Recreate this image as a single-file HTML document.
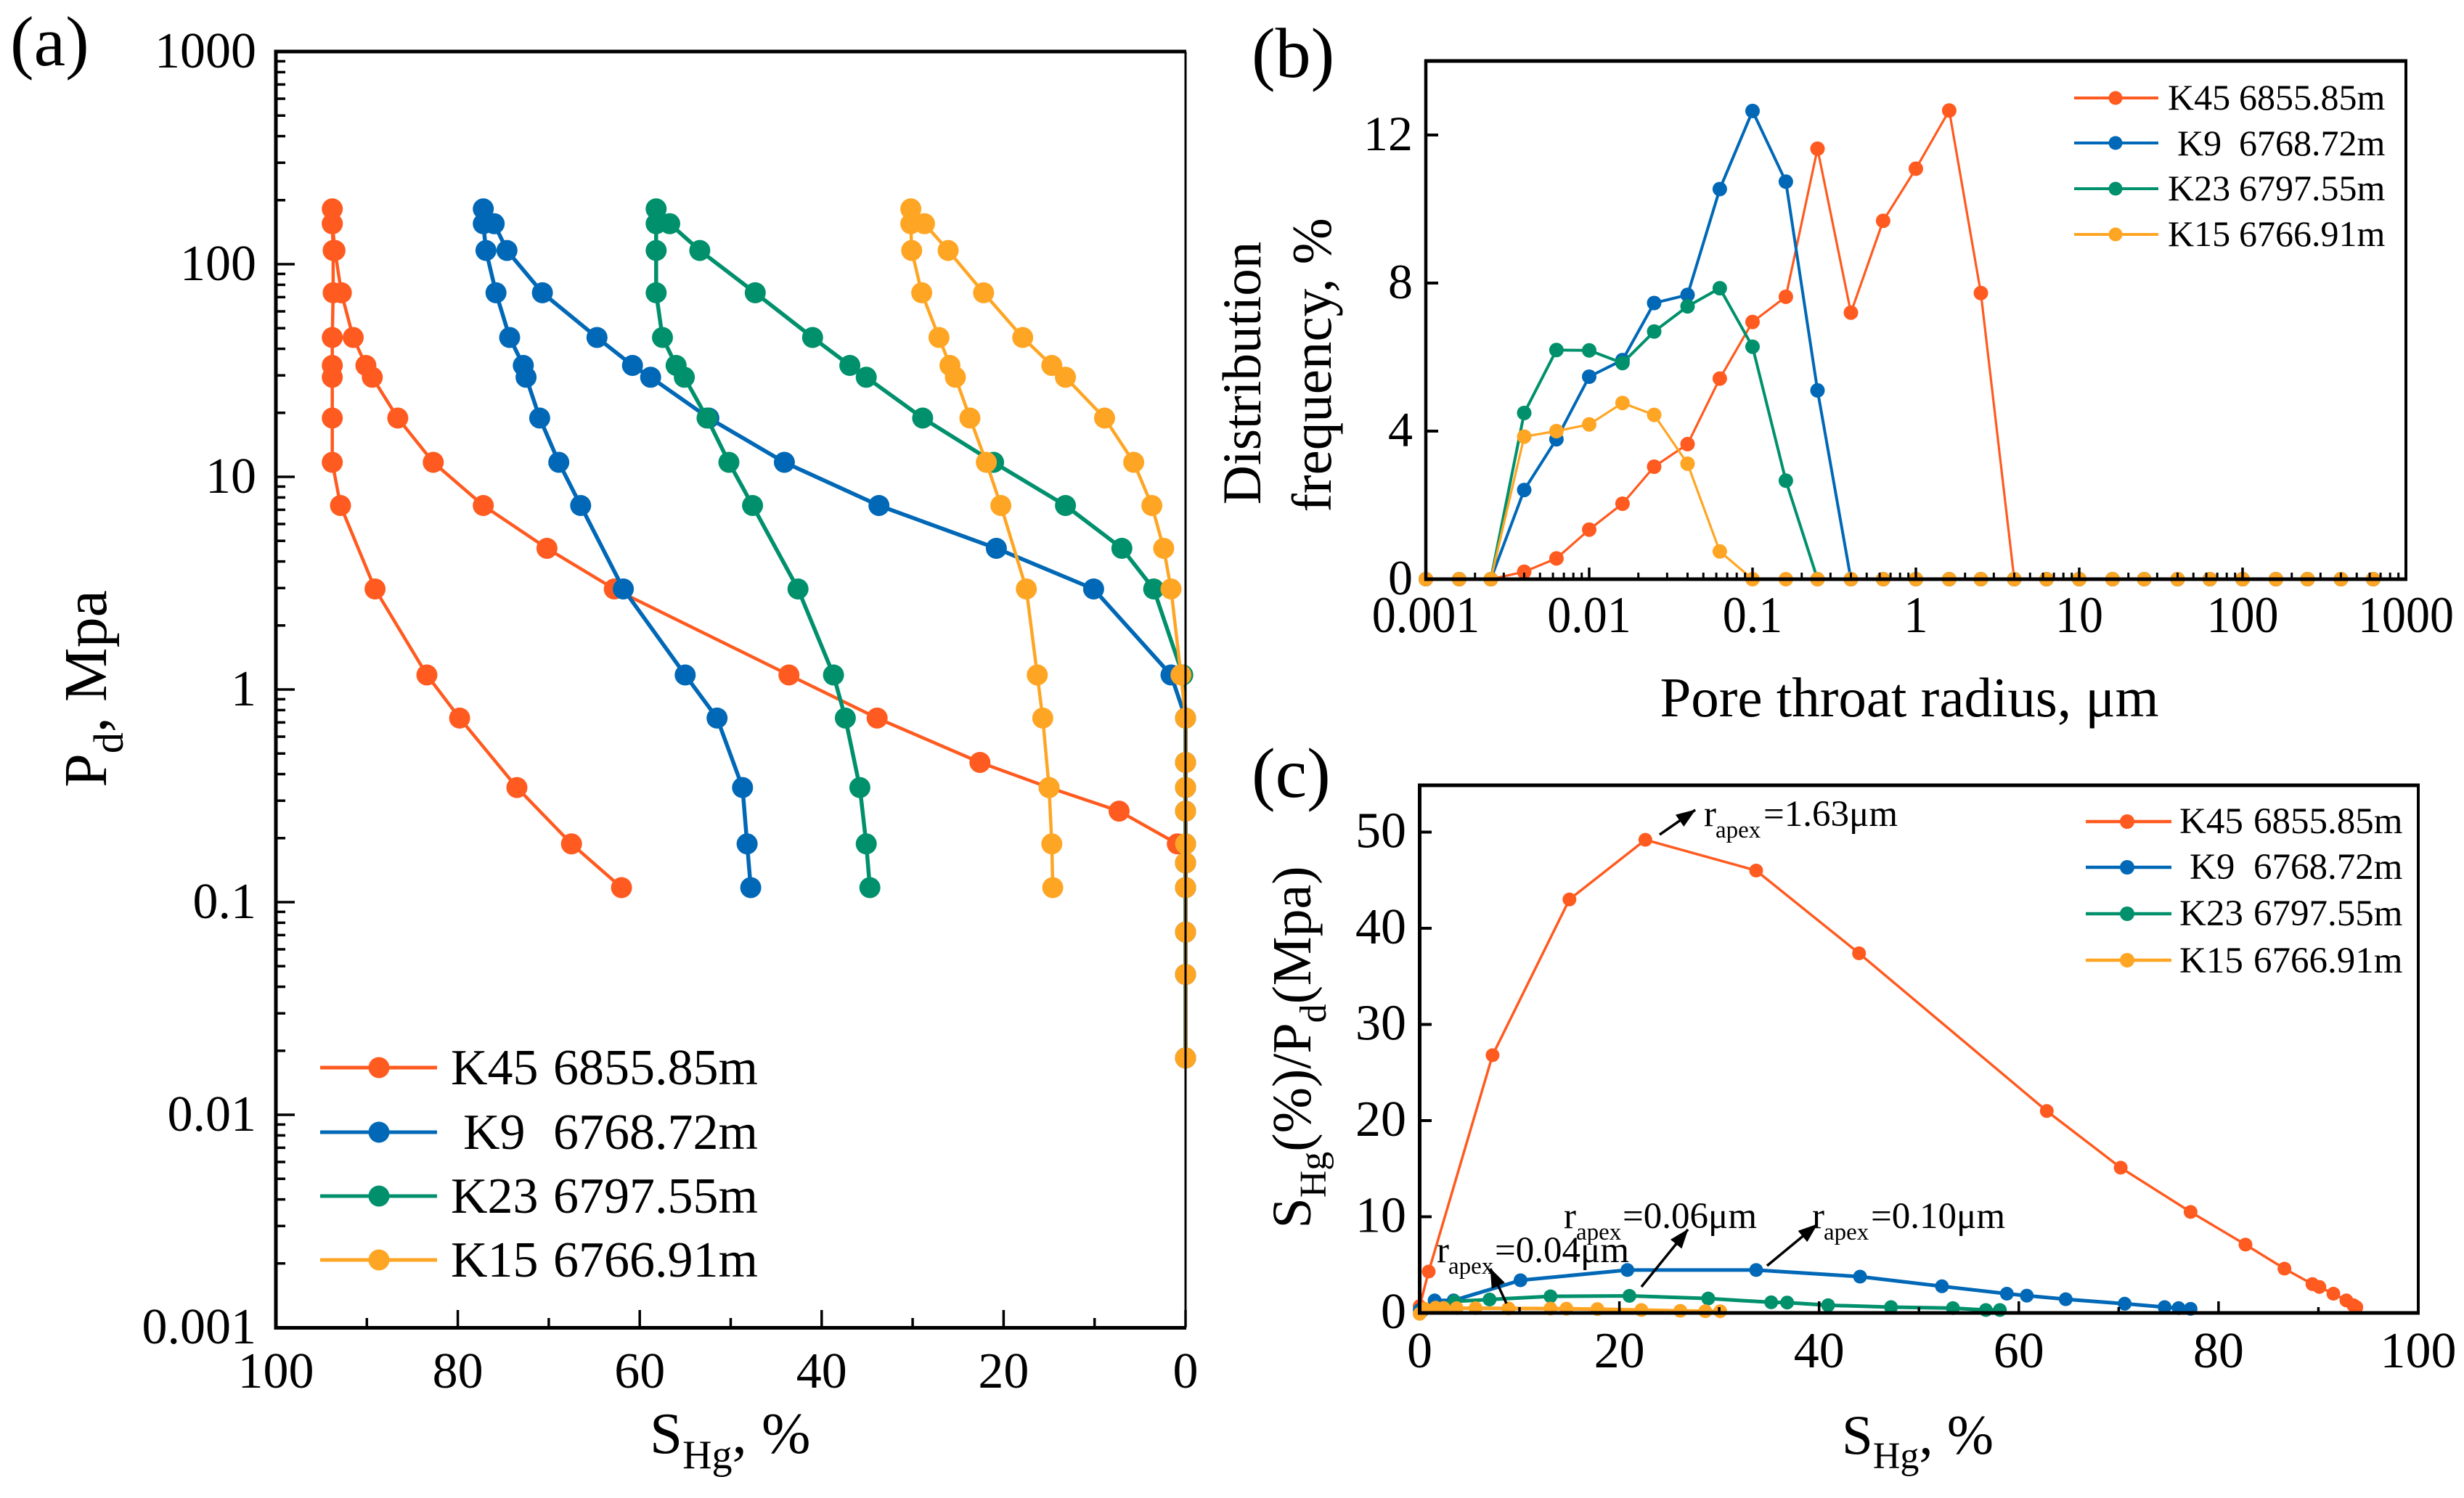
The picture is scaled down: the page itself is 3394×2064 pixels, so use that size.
<!DOCTYPE html>
<html lang="en">
<head>
<meta charset="utf-8">
<title>Mercury injection curves</title>
<style>
html,body{margin:0;padding:0;background:#fff}
svg{display:block}
text{font-family:"Liberation Serif",serif;fill:#000}
</style>
</head>
<body>
<svg id="fig" xmlns="http://www.w3.org/2000/svg" width="3394" height="2064" viewBox="0 0 3394 2064">
<rect width="3394" height="2064" fill="#fff"/>
<g id="marks"></g>
<g id="axes"></g>

<text x="14" y="90" font-size="98">(a)</text>
<text x="1724" y="106" font-size="98">(b)</text>
<text x="1724" y="1098" font-size="98">(c)</text>

<text x="895" y="2002" font-size="81">S<tspan font-size="56" dy="21">Hg</tspan><tspan dy="-21">, %</tspan></text>
<text transform="translate(146,949) rotate(-90)" text-anchor="middle" font-size="84">P<tspan font-size="58" dy="23">d</tspan><tspan dy="-23">, Mpa</tspan></text>

<text x="2630" y="987" text-anchor="middle" font-size="77">Pore throat radius, μm</text>
<text transform="translate(1736,514) rotate(-90)" text-anchor="middle" font-size="75">Distribution</text>
<text transform="translate(1833,503) rotate(-90)" text-anchor="middle" font-size="77">frequency, %</text>

<text x="2537" y="2003" font-size="77">S<tspan font-size="52" dy="20">Hg</tspan><tspan dy="-20">, %</tspan></text>
<text transform="translate(1805,1443) rotate(-90)" text-anchor="middle" font-size="76">S<tspan font-size="52" dy="21">Hg</tspan><tspan dy="-21">(%)/P</tspan><tspan font-size="52" dy="21">d</tspan><tspan dy="-21">(Mpa)</tspan></text>

<g>
<text y="1494" font-size="70"><tspan x="621">K45</tspan><tspan x="762">6855.85m</tspan></text>
<text y="1583" font-size="70"><tspan x="638">K9</tspan><tspan x="762">6768.72m</tspan></text>
<text y="1671" font-size="70"><tspan x="621">K23</tspan><tspan x="762">6797.55m</tspan></text>
<text y="1759" font-size="70"><tspan x="621">K15</tspan><tspan x="762">6766.91m</tspan></text>
</g>
<g>
<text y="151" font-size="50"><tspan x="2986">K45</tspan><tspan x="3084">6855.85m</tspan></text>
<text y="214" font-size="50"><tspan x="2999">K9</tspan><tspan x="3084">6768.72m</tspan></text>
<text y="276" font-size="50"><tspan x="2986">K23</tspan><tspan x="3084">6797.55m</tspan></text>
<text y="339" font-size="50"><tspan x="2986">K15</tspan><tspan x="3084">6766.91m</tspan></text>
</g>
<g>
<text y="1148" font-size="51"><tspan x="3002">K45</tspan><tspan x="3104">6855.85m</tspan></text>
<text y="1211" font-size="51"><tspan x="3016">K9</tspan><tspan x="3104">6768.72m</tspan></text>
<text y="1275" font-size="51"><tspan x="3002">K23</tspan><tspan x="3104">6797.55m</tspan></text>
<text y="1340" font-size="51"><tspan x="3002">K15</tspan><tspan x="3104">6766.91m</tspan></text>
</g>

<g>
<text y="1138" font-size="51"><tspan x="2347">r</tspan><tspan x="2363" font-size="33" dy="16">apex</tspan><tspan x="2429" dy="-16">=1.63μm</tspan></text>
<text y="1692" font-size="51"><tspan x="2154">r</tspan><tspan x="2171" font-size="33" dy="16">apex</tspan><tspan x="2235" dy="-16">=0.06μm</tspan></text>
<text y="1692" font-size="51"><tspan x="2496">r</tspan><tspan x="2512" font-size="33" dy="16">apex</tspan><tspan x="2577" dy="-16">=0.10μm</tspan></text>
<text y="1739" font-size="51"><tspan x="1979">r</tspan><tspan x="1995" font-size="33" dy="16">apex</tspan><tspan x="2059" dy="-16">=0.04μm</tspan></text>
<defs><marker id="ah" markerUnits="userSpaceOnUse" markerWidth="28" markerHeight="22" refX="26" refY="10" orient="auto"><path d="M0 0L27 10L0 20Z" fill="#000"/></marker></defs>
<line x1="2286" y1="1150" x2="2335" y2="1116" stroke="#000" stroke-width="3.5" marker-end="url(#ah)"/>
<line x1="2261" y1="1773" x2="2325" y2="1694" stroke="#000" stroke-width="3.5" marker-end="url(#ah)"/>
<line x1="2434" y1="1744" x2="2503" y2="1687" stroke="#000" stroke-width="3.5" marker-end="url(#ah)"/>
<line x1="2075" y1="1796" x2="2053" y2="1748" stroke="#000" stroke-width="3.5" marker-end="url(#ah)"/>
</g>
</svg>

<script>
// Series presentation
const seriesNames = ['K45', 'K9', 'K23', 'K15'];
const seriesColors = ['#ff5a1f', '#0068b6', '#00906c', '#ffa524'];

// Panel (a) capillary pressure, Mpa
const intrusionPressure = [0.0185,0.0457,0.0723,0.117,0.153,0.188,0.268,0.346,0.454,0.734,1.17,2.97,4.61,7.33,11.7,18.9,29.4,33.4,45.2,73.4,116,155,182];
const withdrawalPressure = [155,116,73.4,45.2,33.4,29.4,18.9,11.7,7.33,2.97,1.17,0.734,0.346,0.188,0.117];

// Panel (a) mercury saturation, %
const k45Intrusion = [0,0,0,0,0,0.9,7.3,15,22.6,33.9,43.6,62.8,70.2,77.2,82.7,86.6,89.4,90.1,91.5,92.8,93.5,93.8,93.8];
const k9Intrusion = [0,0,0,0,0,0,0,0,0,0,1.6,10.1,20.8,33.7,44.1,52.4,58.8,60.8,64.7,70.7,74.6,76,77.2];
const k23Intrusion = [0,0,0,0,0,0,0,0,0,0,0.3,3.5,7,13.2,21.1,28.9,35.1,36.9,41,47.3,53.4,56.7,58.2];
const k15Intrusion = [0,0,0,0,0,0,0,0,0,0,0.5,1.6,2.4,3.7,5.7,8.9,13.2,14.7,17.9,22.2,26.1,28.7,30.2];
const k45Withdrawal = [93.8,93.7,93.7,93.8,93.8,93.8,93.8,93.8,92.9,89.1,83.4,79.8,73.5,67.5,62];
const k9Withdrawal = [77.2,76.9,75.8,74.3,72.8,72.5,71,68.9,66.5,61.8,55,51.5,48.7,48.2,47.8];
const k23Withdrawal = [58.2,58.2,58.2,57.5,56,55.1,52.6,50.2,47.6,42.6,38.7,37.4,35.8,35.1,34.7];
const k15Withdrawal = [30.2,30.1,29,27.1,25.9,25.3,23.7,21.9,20.3,17.5,16.3,15.7,15,14.7,14.6];

// Panel (b) pore throat radius, um and distribution frequency, %
const throatRadius = [0.001,0.0016,0.0025,0.004,0.0063,0.01,0.016,0.025,0.04,0.063,0.1,0.16,0.25,0.4,0.63,1,1.6,2.5,4,6.3,10,16,25,40,63,100,160,250,400,630];
const k45Frequency = [0,0,0,0.2,0.56,1.34,2.04,3.04,3.65,5.42,6.95,7.63,11.63,7.2,9.68,11.09,12.66,7.73,0,0,0,0,0,0,0,0,0,0,0,0];
const k9Frequency = [0,0,0,2.41,3.78,5.47,5.92,7.46,7.68,10.54,12.65,10.74,5.1,0,0,0,0,0,0,0,0,0,0,0,0,0,0,0,0,0];
const k23Frequency = [0,0,0,4.49,6.19,6.18,5.84,6.69,7.37,7.86,6.28,2.66,0,0,0,0,0,0,0,0,0,0,0,0,0,0,0,0,0,0];
const k15Frequency = [0,0,0,3.85,4,4.18,4.76,4.44,3.12,0.75,0,0,0,0,0,0,0,0,0,0,0,0,0,0,0,0,0,0,0,0];

// Panel (c) saturation, % and S/P ratio
const k45ApexS = [0,0.9,7.3,15,22.6,33.7,44,62.8,70.2,77.2,82.7,86.6,89.4,90.1,91.5,92.8,93.5,93.8];
const k45ApexR = [0.7,4.3,26.8,43,49.2,46,37.4,21,15.1,10.5,7.1,4.6,3,2.7,2,1.3,0.8,0.6];
const k9ApexS = [0,1.5,3.4,10.1,20.8,33.7,44.1,52.3,58.8,60.8,64.7,70.6,74.6,76,77.2];
const k9ApexR = [0.3,1.3,1.3,3.4,4.46,4.46,3.77,2.77,2,1.8,1.43,0.96,0.6,0.5,0.42];
const k23ApexS = [0.3,3.5,7,13.1,21,28.9,35.2,36.8,40.9,47.2,53.4,56.7,58.1];
const k23ApexR = [0.26,1.2,1.4,1.73,1.77,1.5,1.1,1.08,0.8,0.6,0.5,0.3,0.3];
const k15ApexS = [0,0.5,1.6,2.4,3.7,5.6,8.9,13.1,14.7,17.8,22.2,26.1,28.6,30.1];
const k15ApexR = [-0.1,0.43,0.54,0.52,0.5,0.49,0.47,0.45,0.44,0.4,0.3,0.22,0.18,0.17];

// Tick labels
const aYTicks = ['1000','100','10','1','0.1','0.01','0.001'];
const aXTicks = ['100','80','60','40','20','0'];
const bYTicks = ['12','8','4','0'];
const bXTicks = ['0.001','0.01','0.1','1','10','100','1000'];
const cYTicks = ['50','40','30','20','10','0'];
const cXTicks = ['0','20','40','60','80','100'];

const NS = 'http://www.w3.org/2000/svg';
const marks = document.getElementById('marks');
const axes = document.getElementById('axes');

const xA = s => 1633 - s / 100 * 1253;
const yA = p => 71 + (3 - Math.log10(p)) * 293;
const xB = r => 1964 + (Math.log10(r) + 3) * 225;
const yB = v => 798 - v * 51;
const xC = s => 1955.5 + s * 13.755;
const yC = v => 1809 - v * 13.25;

function polyline(parent, pts, color, width, name) {
  const el = document.createElementNS(NS, 'polyline');
  
  
  el.setAttribute('points', pts.map(p => p[0].toFixed(1) + ',' + p[1].toFixed(1)).join(' '));
  el.setAttribute('fill', 'none');
  el.setAttribute('stroke', color);
  el.setAttribute('stroke-width', width);
  el.setAttribute('stroke-linejoin', 'round');
  parent.appendChild(el);
}
function dot(parent, p, color, r, name) {
  const el = document.createElementNS(NS, 'circle');
  
  
  el.setAttribute('cx', p[0].toFixed(1));
  el.setAttribute('cy', p[1].toFixed(1));
  el.setAttribute('r', r);
  el.setAttribute('fill', color);
  parent.appendChild(el);
}
function seg(x1, y1, x2, y2, w, name) {
  const el = document.createElementNS(NS, 'line');
  
  
  el.setAttribute('x1', x1);
  el.setAttribute('y1', y1);
  el.setAttribute('x2', x2);
  el.setAttribute('y2', y2);
  el.setAttribute('stroke', '#000');
  el.setAttribute('stroke-width', w);
  axes.appendChild(el);
}
function label(str, x, y, size, anchor, name, sx) {
  const el = document.createElementNS(NS, 'text');
  
  
  el.setAttribute('transform', 'translate(' + x + ',' + y + ') scale(' + (sx || 1) + ',1)');
  el.setAttribute('font-size', size);
  el.setAttribute('text-anchor', anchor);
  el.textContent = str;
  axes.appendChild(el);
}
function drawSeries(pts, markPts, color, width, r, name) {
  const g = document.createElementNS(NS, 'g');
  
  
  marks.appendChild(g);
  polyline(g, pts, color, width, name + '-line');
  markPts.forEach(p => dot(g, p, color, r, name + '-point'));
}

// Panel (a)
const aIntr = [k45Intrusion, k9Intrusion, k23Intrusion, k15Intrusion];
const aWith = [k45Withdrawal, k9Withdrawal, k23Withdrawal, k15Withdrawal];
seriesNames.forEach((n, i) => {
  const pts = intrusionPressure.map((p, j) => [xA(aIntr[i][j]), yA(p)])
    .concat(withdrawalPressure.map((p, j) => [xA(aWith[i][j]), yA(p)]));
  drawSeries(pts, pts, seriesColors[i], i === 1 || i === 2 ? 5.5 : 4.5, 14.5, 'panel-a-series-' + n.toLowerCase());
});
// Panel (b)
const bVals = [k45Frequency, k9Frequency, k23Frequency, k15Frequency];
seriesNames.forEach((n, i) => {
  const pts = throatRadius.map((r, j) => [xB(r), yB(bVals[i][j])]);
  drawSeries(pts, pts, seriesColors[i], i === 1 || i === 2 ? 4 : 3.2, 10, 'panel-b-series-' + n.toLowerCase());
});
// Panel (c)
const cS = [k45ApexS, k9ApexS, k23ApexS, k15ApexS];
const cR = [k45ApexR, k9ApexR, k23ApexR, k15ApexR];
seriesNames.forEach((n, i) => {
  const pts = cS[i].map((s, j) => [xC(s), yC(cR[i][j])]);
  drawSeries(pts, pts, seriesColors[i], i === 0 ? 3.5 : 5, 9.5, 'panel-c-series-' + n.toLowerCase());
});
// Legends (line + marker glyphs)
const legendRowsA = [1471, 1560, 1648, 1736];
const legendRowsB = [135, 197, 260, 323];
const legendRowsC = [1132, 1195, 1259, 1323];
seriesNames.forEach((n, i) => {
  const c = seriesColors[i];
  drawSeries([[441, legendRowsA[i]], [602, legendRowsA[i]]], [[522, legendRowsA[i]]], c, 5, 14.5, 'legend-a-key-' + n.toLowerCase());
  drawSeries([[2857, legendRowsB[i]], [2973, legendRowsB[i]]], [[2914, legendRowsB[i]]], c, 4, 9.5, 'legend-b-key-' + n.toLowerCase());
  drawSeries([[2873, legendRowsC[i]], [2991, legendRowsC[i]]], [[2930, legendRowsC[i]]], c, 4.5, 10, 'legend-c-key-' + n.toLowerCase());
});

// Axes: panel (a)
seg(380, 68.5, 380, 1832, 5, 'panel-a-left-spine');
seg(378, 71, 1634, 71, 5, 'panel-a-top-spine');
seg(378, 1829.5, 1634, 1829.5, 5, 'panel-a-bottom-spine');
seg(1633, 71, 1633, 1829, 3, 'panel-a-right-spine');
aYTicks.forEach((t, i) => {
  const v = parseFloat(t);
  seg(380, yA(v), 406, yA(v), 3.5, 'panel-a-y-tick');
  label(t, 353, yA(v) + 22, 70, 'end', 'panel-a-y-tick-label');
  if (i < aYTicks.length - 1) for (let m = 2; m < 10; m++) {
    const y = yA(v / 10 * m);
    seg(380, y, 393, y, 3.5, 'panel-a-y-minor-tick');
  }
});
aXTicks.forEach(t => {
  const v = parseFloat(t);
  seg(xA(v), 1829, xA(v), 1805, 3.5, 'panel-a-x-tick');
  label(t, xA(v), 1912, 70, 'middle', 'panel-a-x-tick-label');
  if (v > 0) seg(xA(v - 10), 1829, xA(v - 10), 1816, 3.5, 'panel-a-x-minor-tick');
});

// Axes: panel (b)
seg(1964, 82, 1964, 800, 4.5, 'panel-b-left-spine');
seg(1962, 84, 3316, 84, 5, 'panel-b-top-spine');
seg(1962, 798, 3316, 798, 5, 'panel-b-bottom-spine');
seg(3314, 84, 3314, 798, 4, 'panel-b-right-spine');
bYTicks.forEach(t => {
  const v = parseFloat(t);
  seg(1964, yB(v), 1981, yB(v), 4, 'panel-b-y-tick');
  label(t, 1946, yB(v) + 21, 68, 'end', 'panel-b-y-tick-label');
});
bXTicks.forEach((t, i) => {
  const v = parseFloat(t);
  seg(xB(v), 798, xB(v), 782, 3.5, 'panel-b-x-tick');
  label(t, xB(v), 871, 71, 'middle', 'panel-b-x-tick-label', 0.93);
  if (i < bXTicks.length - 1) for (let m = 2; m < 10; m++) {
    seg(xB(v * m), 798, xB(v * m), 789, 3, 'panel-b-x-minor-tick');
  }
});

// Axes: panel (c)
seg(1955.5, 1080, 1955.5, 1811.5, 5, 'panel-c-left-spine');
seg(1953, 1082, 3333, 1082, 5, 'panel-c-top-spine');
seg(1953, 1809, 3333, 1809, 5, 'panel-c-bottom-spine');
seg(3331, 1082, 3331, 1809, 4, 'panel-c-right-spine');
cYTicks.forEach(t => {
  const v = parseFloat(t);
  seg(1955.5, yC(v), 1972, yC(v), 4, 'panel-c-y-tick');
  label(t, 1937, yC(v) + 21, 70, 'end', 'panel-c-y-tick-label');
});
cXTicks.forEach(t => {
  const v = parseFloat(t);
  seg(xC(v), 1809, xC(v), 1793, 3.5, 'panel-c-x-tick');
  label(t, xC(v), 1884, 70, 'middle', 'panel-c-x-tick-label');
  if (v < 100) seg(xC(v + 10), 1809, xC(v + 10), 1801, 3.5, 'panel-c-x-minor-tick');
});
</script>
</body>
</html>
